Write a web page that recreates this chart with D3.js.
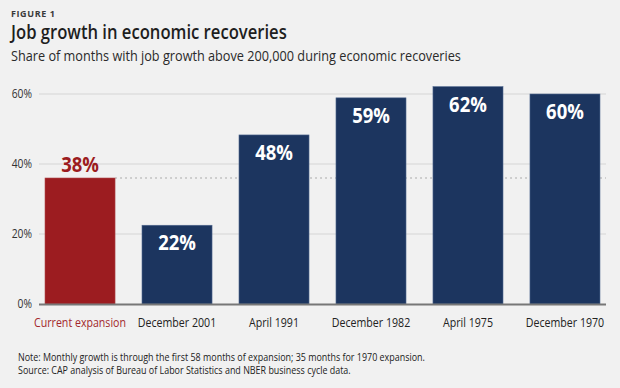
<!DOCTYPE html>
<html>
<head>
<meta charset="utf-8">
<script src="https://cdn.jsdelivr.net/npm/d3@7/dist/d3.min.js"></script>
<style>
  body { margin: 0; background: #f1f1f1; }
  svg { display: block; font-family: "Open Sans", sans-serif; }
</style>
</head>
<body>
<script>
// data
var categories = ['Current expansion', 'December 2001', 'April 1991', 'December 1982', 'April 1975', 'December 1970'];
var values = [36, 22.5, 48.3, 58.9, 62.1, 60];   // drawn bar heights (%)
var valueLabels = ['38%', '22%', '48%', '59%', '62%', '60%'];
var yTicks = [0, 20, 40, 60];
var refLine = 36;   // dotted line level, current expansion

var width = 620, height = 388;
var svg = d3.select('body').append('svg')
  .attr('width', width)
  .attr('height', height);

svg.append('rect').attr('width', width).attr('height', height).attr('fill', '#f1f1f1');

// squeeze text horizontally, the original face is narrow
function squeeze(sel, k) {
  sel.each(function () {
    var w = this.getComputedTextLength();
    d3.select(this).attr('textLength', w * k).attr('lengthAdjust', 'spacingAndGlyphs');
  });
}

svg.append('text')
  .attr('x', 11).attr('y', 17)
  .style('font-size', '9px').style('font-weight', 700)
  .style('letter-spacing', '0.6px')
  .attr('fill', '#3a3a3a')
  .text('FIGURE 1');

svg.append('text')
  .attr('x', 11).attr('y', 39)
  .style('font-size', '19px').style('font-weight', 600)
  .attr('fill', '#1e1e1e')
  .text('Job growth in economic recoveries')
  .call(squeeze, 0.875);

svg.append('text')
  .attr('x', 11).attr('y', 61)
  .style('font-size', '14.5px')
  .attr('fill', '#2a2a2a')
  .text('Share of months with job growth above 200,000 during economic recoveries')
  .call(squeeze, 0.875);

var x = d3.scaleBand()
  .domain(categories)
  .range([39, 606])
  .paddingInner(0.278)
  .paddingOuter(0.062);

var y = d3.scaleLinear().domain([0, 60]).range([304, 94]);

// gridlines
svg.append('g').selectAll('line')
  .data(yTicks.filter(function (d) { return d > 0; }))
  .join('line')
  .attr('x1', 39).attr('x2', 606)
  .attr('y1', function (d) { return y(d); })
  .attr('y2', function (d) { return y(d); })
  .attr('stroke', '#d5d5d5').attr('stroke-width', 1);

// y tick labels
svg.append('g').selectAll('text')
  .data(yTicks)
  .join('text')
  .attr('x', 32)
  .attr('y', function (d) { return y(d) + 4; })
  .attr('text-anchor', 'end')
  .style('font-size', '12px')
  .attr('fill', '#333')
  .text(function (d) { return d + '%'; })
  .call(squeeze, 0.86);

// dotted reference line
svg.append('line')
  .attr('x1', x(categories[0]) + x.bandwidth()).attr('x2', 606)
  .attr('y1', y(refLine)).attr('y2', y(refLine))
  .attr('stroke', '#aaaaaa').attr('stroke-width', 1.2)
  .attr('stroke-dasharray', '2,3');

// bars
svg.append('g').selectAll('rect')
  .data(values)
  .join('rect')
  .attr('x', function (d, i) { return x(categories[i]); })
  .attr('y', function (d) { return y(d); })
  .attr('width', x.bandwidth())
  .attr('height', function (d) { return y(0) - y(d); })
  .attr('fill', function (d, i) { return i === 0 ? '#9c1c20' : '#1c355f'; })
  .attr('stroke', function (d, i) { return i === 0 ? '#b0484b' : '#51698f'; })
  .attr('stroke-width', 0.6);

// value labels
svg.append('g').selectAll('text')
  .data(values)
  .join('text')
  .attr('x', function (d, i) { return x(categories[i]) + x.bandwidth() / 2; })
  .attr('y', function (d, i) { return i === 0 ? y(d) - 6 : y(d) + 25; })
  .attr('text-anchor', 'middle')
  .style('font-size', '20.5px').style('font-weight', 700)
  .attr('fill', function (d, i) { return i === 0 ? '#9c1c20' : '#ffffff'; })
  .text(function (d, i) { return valueLabels[i]; })
  .call(squeeze, 0.9);

// baseline
svg.append('line')
  .attr('x1', 39).attr('x2', 606)
  .attr('y1', y(0) + 0.5).attr('y2', y(0) + 0.5)
  .attr('stroke', '#777').attr('stroke-width', 2);

// category labels
svg.append('g').selectAll('text')
  .data(categories)
  .join('text')
  .attr('x', function (d) { return x(d) + x.bandwidth() / 2; })
  .attr('y', 327)
  .attr('text-anchor', 'middle')
  .style('font-size', '12.5px')
  .attr('fill', function (d, i) { return i === 0 ? '#a3282c' : '#222'; })
  .text(function (d) { return d; })
  .call(squeeze, 0.85);

// notes
var notes = [
  'Note: Monthly growth is through the first 58 months of expansion; 35 months for 1970 expansion.',
  'Source: CAP analysis of Bureau of Labor Statistics and NBER business cycle data.'
];
svg.append('g').selectAll('text')
  .data(notes)
  .join('text')
  .attr('x', 18)
  .attr('y', function (d, i) { return 361 + i * 13; })
  .style('font-size', '10.5px')
  .attr('fill', '#222')
  .text(function (d) { return d; })
  .call(squeeze, 0.85);
</script>
</body>
</html>
